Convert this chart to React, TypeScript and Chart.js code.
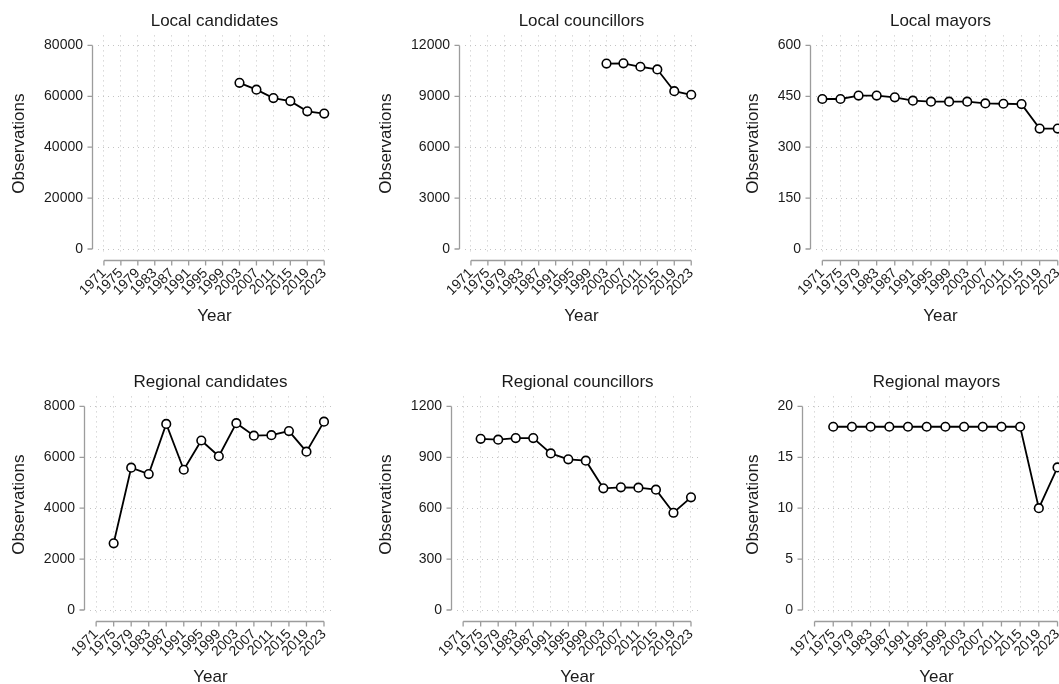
import React, { useEffect, useRef } from 'react';
import { Chart, registerables } from 'chart.js';

Chart.register(...registerables);

// ---------- data ----------
const yearTicks = [1971, 1975, 1979, 1983, 1987, 1991, 1995, 1999, 2003, 2007, 2011, 2015, 2019, 2023];

const localCandidatesYears = [2003, 2007, 2011, 2015, 2019, 2023];
const localCandidatesValues = [65300, 62600, 59300, 58100, 54100, 53200];

const localCouncillorsYears = [2003, 2007, 2011, 2015, 2019, 2023];
const localCouncillorsValues = [10930, 10940, 10740, 10580, 9300, 9090];

const localMayorsYears = [1971, 1975, 1979, 1983, 1987, 1991, 1995, 1999, 2003, 2007, 2011, 2015, 2019, 2023];
const localMayorsValues = [442, 442, 452, 452, 447, 437, 434, 434, 434, 429, 428, 427, 355, 355];

const regionalCandidatesYears = [1975, 1979, 1983, 1987, 1991, 1995, 1999, 2003, 2007, 2011, 2015, 2019, 2023];
const regionalCandidatesValues = [2620, 5590, 5340, 7310, 5510, 6660, 6040, 7340, 6850, 6870, 7030, 6220, 7400];

const regionalCouncillorsYears = [1975, 1979, 1983, 1987, 1991, 1995, 1999, 2003, 2007, 2011, 2015, 2019, 2023];
const regionalCouncillorsValues = [1009, 1004, 1013, 1013, 923, 888, 880, 717, 723, 721, 709, 573, 664];

const regionalMayorsYears = [1975, 1979, 1983, 1987, 1991, 1995, 1999, 2003, 2007, 2011, 2015, 2019, 2023];
const regionalMayorsValues = [18, 18, 18, 18, 18, 18, 18, 18, 18, 18, 18, 10, 14];

const panelTitles = ['Local candidates', 'Local councillors', 'Local mayors', 'Regional candidates', 'Regional councillors', 'Regional mayors'];
const panelYTicks = [
  [0, 20000, 40000, 60000, 80000],
  [0, 3000, 6000, 9000, 12000],
  [0, 150, 300, 450, 600],
  [0, 2000, 4000, 6000, 8000],
  [0, 300, 600, 900, 1200],
  [0, 5, 10, 15, 20],
];
const panelYears = [localCandidatesYears, localCouncillorsYears, localMayorsYears, regionalCandidatesYears, regionalCouncillorsYears, regionalMayorsYears];
const panelValues = [localCandidatesValues, localCouncillorsValues, localMayorsValues, regionalCandidatesValues, regionalCouncillorsValues, regionalMayorsValues];

// ---------- layout ----------
const PANEL_W = 367;
const PANEL_H = 342;
const ROW_STEP = 361;
const CHART_LEFTS = [98, 98, 82, 90, 90, 74];
const FONT = '"Liberation Sans", Arial, Helvetica, sans-serif';
const TEXT = '#1a1a1a';
const AXIS = '#9c9c9c';
const GRID = '#c4c4c4';

const axisLinesPlugin = {
  id: 'axisLines',
  afterDraw(chart: any) {
    const { ctx, chartArea, scales } = chart;
    const xs = scales.x;
    const ys = scales.y;
    ctx.save();
    ctx.strokeStyle = AXIS;
    ctx.lineWidth = 1.3;
    // y axis
    const ax = Math.round(chartArea.left - 6) + 0.5;
    const yv = ys.ticks.map((t: any) => t.value);
    ctx.beginPath();
    ctx.moveTo(ax, ys.getPixelForValue(yv[0]));
    ctx.lineTo(ax, ys.getPixelForValue(yv[yv.length - 1]));
    yv.forEach((v: number) => {
      const p = ys.getPixelForValue(v);
      ctx.moveTo(ax - 5, p);
      ctx.lineTo(ax, p);
    });
    ctx.stroke();
    // x axis
    const ay = Math.round(chartArea.bottom + 8) + 0.5;
    const xv = xs.ticks.map((t: any) => t.value);
    ctx.beginPath();
    ctx.moveTo(xs.getPixelForValue(xv[0]), ay);
    ctx.lineTo(xs.getPixelForValue(xv[xv.length - 1]), ay);
    xv.forEach((v: number) => {
      const p = xs.getPixelForValue(v);
      ctx.moveTo(p, ay);
      ctx.lineTo(p, ay + 5);
    });
    ctx.stroke();
    ctx.restore();
  },
};

function Panel({ index }: { index: number }) {
  const ref = useRef<HTMLCanvasElement | null>(null);
  useEffect(() => {
    if (!ref.current) return;
    const yt = panelYTicks[index];
    const yMax = yt[yt.length - 1];
    const chartLeft = CHART_LEFTS[index];
    const data = panelYears[index].map((yr, i) => ({ x: yr, y: panelValues[index][i] }));
    const chart = new Chart(ref.current, {
      type: 'line',
      data: {
        datasets: [
          {
            data,
            borderColor: '#000',
            borderWidth: 1.8,
            pointRadius: 4.3,
            pointBorderWidth: 1.6,
            pointBackgroundColor: '#fff',
            pointBorderColor: '#000',
            tension: 0,
          },
        ],
      },
      options: {
        animation: false,
        responsive: false,
        devicePixelRatio: 1,
        layout: { padding: { left: 0, right: 36, top: 0, bottom: 0 } },
        plugins: {
          legend: { display: false },
          tooltip: { enabled: false },
          title: {
            display: true,
            text: panelTitles[index],
            color: TEXT,
            font: { family: FONT, size: 17, weight: 'normal' },
            padding: { top: 11, bottom: 4 },
            fullSize: false,
          },
        },
        scales: {
          x: {
            type: 'linear',
            min: 1969.6,
            max: 2024.6,
            afterBuildTicks: (s: any) => {
              s.ticks = yearTicks.map((v) => ({ value: v }));
            },
            afterFit: (s: any) => {
              s.height = PANEL_H - 252;
            },
            grid: { color: GRID, lineWidth: 1, drawTicks: false },
            border: { display: false, dash: [1, 4] },
            ticks: {
              autoSkip: false,
              maxRotation: 45,
              minRotation: 45,
              padding: 13,
              color: TEXT,
              font: { family: FONT, size: 14 },
              callback: (v: any) => String(v),
            },
            title: {
              display: true,
              text: 'Year',
              color: TEXT,
              font: { family: FONT, size: 17 },
              padding: { top: 0, bottom: 15 },
            },
          },
          y: {
            type: 'linear',
            min: -0.0147 * yMax,
            max: yMax * 1.049,
            afterBuildTicks: (s: any) => {
              s.ticks = yt.map((v) => ({ value: v }));
            },
            afterFit: (s: any) => {
              s.width = chartLeft;
            },
            grid: { color: GRID, lineWidth: 1, drawTicks: false },
            border: { display: false, dash: [1, 4] },
            ticks: {
              padding: 15,
              color: TEXT,
              font: { family: FONT, size: 14 },
              callback: (v: any) => String(v),
            },
            title: {
              display: true,
              text: 'Observations',
              color: TEXT,
              font: { family: FONT, size: 17 },
              padding: { top: 9, bottom: 0 },
            },
          },
        },
      },
      plugins: [axisLinesPlugin],
    });
    return () => chart.destroy();
  }, [index]);

  const col = index % 3;
  const row = Math.floor(index / 3);
  return (
    <canvas
      ref={ref}
      width={PANEL_W}
      height={PANEL_H}
      style={{ position: 'absolute', left: col * PANEL_W, top: row * ROW_STEP, width: PANEL_W, height: PANEL_H }}
    />
  );
}

export default function App() {
  return (
    <div
      style={{
        position: 'absolute',
        left: 0,
        top: 0,
        width: 1059,
        height: 684,
        overflow: 'hidden',
        background: '#fff',
      }}
    >
      {[0, 1, 2, 3, 4, 5].map((i) => (
        <Panel key={i} index={i} />
      ))}
    </div>
  );
}
